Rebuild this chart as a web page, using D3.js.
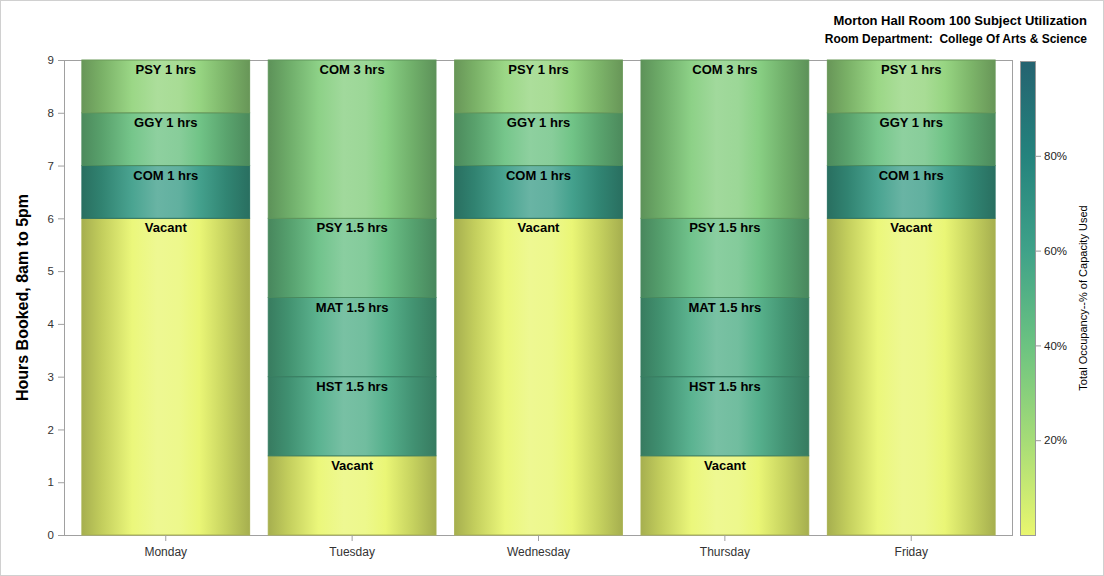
<!DOCTYPE html>
<html>
<head>
<meta charset="utf-8">
<script src="https://cdn.jsdelivr.net/npm/d3@7"></script>
<style>
  html, body { margin: 0; padding: 0; background: #fff; }
  svg { display: block; font-family: "Liberation Sans", Arial, sans-serif; }
</style>
</head>
<body>
<svg id="chart" width="1104" height="576"></svg>
<script>
// ---------------- data ----------------
const days = ["Monday", "Tuesday", "Wednesday", "Thursday", "Friday"];
const segDays = [
  "Monday", "Monday", "Monday", "Monday",
  "Tuesday", "Tuesday", "Tuesday", "Tuesday", "Tuesday",
  "Wednesday", "Wednesday", "Wednesday", "Wednesday",
  "Thursday", "Thursday", "Thursday", "Thursday", "Thursday",
  "Friday", "Friday", "Friday", "Friday"
];
const segNames = [
  "Vacant", "COM", "GGY", "PSY",
  "Vacant", "HST", "MAT", "PSY", "COM",
  "Vacant", "COM", "GGY", "PSY",
  "Vacant", "HST", "MAT", "PSY", "COM",
  "Vacant", "COM", "GGY", "PSY"
];
const segHours = [
  6, 1, 1, 1,
  1.5, 1.5, 1.5, 1.5, 3,
  6, 1, 1, 1,
  1.5, 1.5, 1.5, 1.5, 3,
  6, 1, 1, 1
];
const segOccupancy = [
  0.0, 0.64, 0.41, 0.27,
  0.0, 0.54, 0.53, 0.43, 0.32,
  0.0, 0.64, 0.41, 0.27,
  0.0, 0.54, 0.53, 0.43, 0.32,
  0.0, 0.64, 0.41, 0.27
];
const yTicks = [0, 1, 2, 3, 4, 5, 6, 7, 8, 9];
const legendTicks = [0.2, 0.4, 0.6, 0.8];
const colorStops = ["#e9f66f", "#a6dc77", "#6cc381", "#3fa289", "#24837d", "#256370"];
const titleText = "Morton Hall Room 100 Subject Utilization";
const subtitleText = "Room Department:  College Of Arts & Science";
const yTitle = "Hours Booked, 8am to 5pm";
const legendTitle = "Total Occupancy--% of Capacity Used";

// ---------------- layout ----------------
const svg = d3.select("#chart");
const W = 1104, H = 576;
const plot = { left: 64, right: 1013, top: 60, bottom: 535 };

svg.append("rect").attr("x", 0.5).attr("y", 0.5).attr("width", W - 1).attr("height", H - 1)
  .attr("fill", "#fff").attr("stroke", "#d0d0d0");

const x = d3.scaleBand().domain(days).range([plot.left, plot.right])
  .paddingInner(0.1).paddingOuter(0.096);
const y = d3.scaleLinear().domain([0, 9]).range([plot.bottom, plot.top]);
const color = d3.scaleLinear()
  .domain(d3.range(colorStops.length).map(i => i / (colorStops.length - 1)))
  .range(colorStops).interpolate(d3.interpolateRgb);

// build stacked segments
const segs = [];
const cum = {};
segDays.forEach((d, i) => {
  const y0 = cum[d] || 0;
  const y1 = y0 + segHours[i];
  cum[d] = y1;
  segs.push({ day: d, name: segNames[i], hours: segHours[i], occ: segOccupancy[i], y0, y1, i });
});

// gradients (sheen across each bar)
const defs = svg.append("defs");
segs.forEach(s => {
  const base = d3.color(color(s.occ));
  const mixW = t => d3.interpolateRgb(base, "#ffffff")(t);
  const g = defs.append("linearGradient").attr("id", "g" + s.i)
    .attr("x1", "0%").attr("x2", "100%").attr("y1", "0%").attr("y2", "0%");
  const stops = [
    [0, base.darker(0.95)],
    [0.12, base.darker(0.5)],
    [0.3, mixW(0.08)],
    [0.45, mixW(0.24)],
    [0.58, mixW(0.2)],
    [0.7, mixW(0.05)],
    [0.86, base.darker(0.45)],
    [1, base.darker(0.95)]
  ];
  stops.forEach(([o, c]) => g.append("stop").attr("offset", o).attr("stop-color", c.toString()));
});

// plot frame
svg.append("rect").attr("x", plot.left + 0.5).attr("y", plot.top + 0.5)
  .attr("width", plot.right - plot.left - 1).attr("height", plot.bottom - plot.top)
  .attr("fill", "none").attr("stroke", "#a0a0a0");

// bars
const bars = svg.append("g");
bars.selectAll("rect").data(segs).join("rect")
  .attr("x", d => x(d.day))
  .attr("width", x.bandwidth())
  .attr("y", d => y(d.y1))
  .attr("height", d => y(d.y0) - y(d.y1))
  .attr("fill", d => `url(#g${d.i})`)
  .attr("stroke", d => d3.color(color(d.occ)).darker(0.9))
  .attr("stroke-width", 1);

bars.selectAll("text").data(segs).join("text")
  .attr("x", d => x(d.day) + x.bandwidth() / 2)
  .attr("y", d => y(d.y1) + 14)
  .attr("text-anchor", "middle")
  .attr("font-size", 13).attr("font-weight", "bold").attr("fill", "#000")
  .text(d => d.name === "Vacant" ? "Vacant" : `${d.name} ${d.hours} hrs`);

// y axis
const yAxis = svg.append("g").attr("transform", `translate(${plot.left},0)`)
  .call(d3.axisLeft(y).tickValues(yTicks).tickSize(6).tickPadding(4));
yAxis.select(".domain").remove();
yAxis.selectAll("line").attr("stroke", "#a0a0a0");
yAxis.selectAll("text").attr("font-size", 11.5).attr("fill", "#333")
  .attr("font-family", "Liberation Sans, Arial, sans-serif");

// x axis
const xAxis = svg.append("g").attr("transform", `translate(0,${plot.bottom})`)
  .call(d3.axisBottom(x).tickSize(6).tickPadding(6));
xAxis.select(".domain").remove();
xAxis.selectAll("line").attr("stroke", "#a0a0a0");
xAxis.selectAll("text").attr("font-size", 12).attr("fill", "#333")
  .attr("font-family", "Liberation Sans, Arial, sans-serif");

// y title
svg.append("text")
  .attr("transform", `translate(28,${(plot.top + plot.bottom) / 2}) rotate(-90)`)
  .attr("text-anchor", "middle").attr("font-size", 16).attr("font-weight", "bold")
  .attr("fill", "#000").text(yTitle);

// titles
svg.append("text").attr("x", 1087).attr("y", 25).attr("text-anchor", "end")
  .attr("font-size", 13).attr("font-weight", "bold").text(titleText);
svg.append("text").attr("x", 1087).attr("y", 43).attr("text-anchor", "end")
  .attr("font-size", 12).attr("font-weight", "bold")
  .style("white-space", "pre").attr("xml:space", "preserve").text(subtitleText);

// legend color bar
const lg = { x: 1020, w: 15, top: 61, bottom: 535 };
const ly = d3.scaleLinear().domain([0, 1]).range([lg.bottom, lg.top]);
const lgrad = defs.append("linearGradient").attr("id", "legendGrad")
  .attr("x1", "0%").attr("x2", "0%").attr("y1", "100%").attr("y2", "0%");
colorStops.forEach((c, i) => lgrad.append("stop")
  .attr("offset", i / (colorStops.length - 1)).attr("stop-color", c));
svg.append("rect").attr("x", lg.x + 0.5).attr("y", lg.top + 0.5)
  .attr("width", lg.w).attr("height", lg.bottom - lg.top)
  .attr("fill", "url(#legendGrad)").attr("stroke", "#999");
const lAxis = svg.append("g").attr("transform", `translate(${lg.x + lg.w + 1},0)`)
  .call(d3.axisRight(ly).tickValues(legendTicks).tickFormat(d3.format(".0%")).tickSize(5).tickPadding(3));
lAxis.select(".domain").remove();
lAxis.selectAll("line").attr("stroke", "#999");
lAxis.selectAll("text").attr("font-size", 11.5).attr("fill", "#222")
  .attr("font-family", "Liberation Sans, Arial, sans-serif");

svg.append("text")
  .attr("transform", `translate(1087,${(lg.top + lg.bottom) / 2}) rotate(-90)`)
  .attr("text-anchor", "middle").attr("font-size", 11).attr("fill", "#000")
  .text(legendTitle);
</script>
</body>
</html>
